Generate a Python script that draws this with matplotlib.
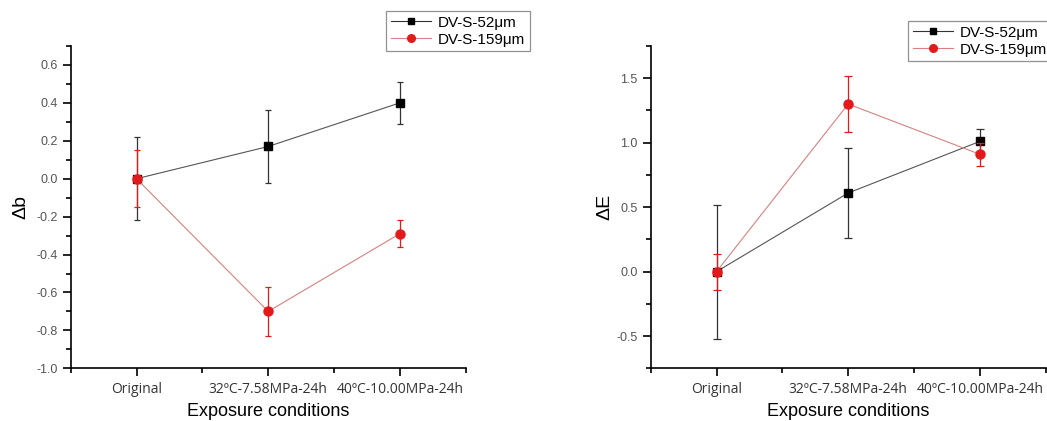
import matplotlib
matplotlib.use('Agg')
import matplotlib.pyplot as plt
from matplotlib.lines import Line2D
from matplotlib.ticker import MultipleLocator, FixedLocator
from matplotlib.transforms import IdentityTransform

# exposure conditions on the x axis
conditions = ['Original', '32ºC-7.58MPa-24h', '40ºC-10.00MPa-24h']
series_names = ['DV-S-52μm', 'DV-S-159μm']

# colour change Δb
db_52 = [0.0, 0.17, 0.40]
db_52_err = [0.22, 0.19, 0.11]
db_159 = [0.0, -0.70, -0.29]
db_159_err = [0.15, 0.13, 0.07]

# total colour difference ΔE
de_52 = [0.0, 0.61, 1.01]
de_52_err = [0.52, 0.35, 0.10]
de_159 = [0.0, 1.30, 0.91]
de_159_err = [0.14, 0.22, 0.09]

RED = '#e31a1c'
W, H = 1047, 421
fig = plt.figure(figsize=(W / 100, H / 100), dpi=100)

ax1 = fig.add_axes([70.7 / W, 1 - 368.3 / H, 395 / W, 322.3 / H])
ax2 = fig.add_axes([650.7 / W, 1 - 368.3 / H, 395 / W, 322.3 / H])

xpos = [1, 2, 3]


def draw(ax, y1, e1, y2, e2, capsize):
    ax.errorbar(xpos, y1, yerr=e1, color='#555555', lw=0.8, marker='s', ms=5.5,
                mfc='black', mec='black', ecolor='#333333', elinewidth=0.9,
                capsize=capsize, capthick=0.9, zorder=3)
    ax.errorbar(xpos, y2, yerr=e2, color='#d98080', lw=0.8, marker='o', ms=6.5,
                mfc=RED, mec=RED, ecolor=RED, elinewidth=0.9,
                capsize=capsize, capthick=0.9, zorder=4)
    ax.set_xlim(0.5, 3.5)
    ax.xaxis.set_major_locator(FixedLocator(xpos))
    ax.xaxis.set_minor_locator(FixedLocator([0.5, 1.5, 2.5, 3.5]))
    ax.set_xticklabels(conditions, family='Open Sans', fontsize=10, color='#333333')
    for s in ['top', 'right']:
        ax.spines[s].set_visible(False)
    for s in ['left', 'bottom']:
        ax.spines[s].set_linewidth(1.2)
    ax.tick_params(which='major', direction='out', length=6, width=1.2)
    ax.tick_params(which='minor', direction='out', length=3.5, width=1.2)
    ax.tick_params(axis='y', labelsize=9, labelcolor='#555555')
    ax.tick_params(axis='x', which='major', pad=4)
    ax.set_xlabel('Exposure conditions', family='Liberation Sans', fontsize=13, labelpad=4)
    handles = [
        Line2D([], [], color='#333333', lw=0.8, marker='s', ms=4.5, mfc='black', mec='black'),
        Line2D([], [], color='#d98080', lw=0.8, marker='o', ms=5.5, mfc=RED, mec=RED),
    ]
    leg = ax.legend(handles, series_names, loc='upper right',
                    prop={'family': 'Liberation Sans', 'size': 11},
                    frameon=True, fancybox=False, handlelength=2.6, borderpad=0.3,
                    labelspacing=0.2, handletextpad=0.5, borderaxespad=0)
    leg.get_frame().set_edgecolor('#777777')
    leg.get_frame().set_linewidth(0.9)
    return leg


leg1 = draw(ax1, db_52, db_52_err, db_159, db_159_err, 2.0)
ax1.set_ylim(-1.0, 0.7)
ax1.yaxis.set_major_locator(MultipleLocator(0.2))
ax1.yaxis.set_minor_locator(MultipleLocator(0.1))
ax1.set_yticklabels([f'{v:.1f}' for v in ax1.get_yticks()], family='Liberation Sans')
ax1.set_ylabel('Δb', family='Liberation Sans', fontsize=14, labelpad=5)
leg1.set_bbox_to_anchor((530, H - 11), transform=IdentityTransform())

leg2 = draw(ax2, de_52, de_52_err, de_159, de_159_err, 2.6)
ax2.set_ylim(-0.75, 1.75)
ax2.yaxis.set_major_locator(MultipleLocator(0.5))
ax2.yaxis.set_minor_locator(MultipleLocator(0.25))
ax2.set_yticklabels([f'{v:.1f}' for v in ax2.get_yticks()], family='Liberation Sans')
ax2.set_ylabel('ΔE', family='Liberation Sans', fontsize=14, labelpad=2)
leg2.set_bbox_to_anchor((1052, H - 21), transform=IdentityTransform())

fig.savefig('out.png', dpi=100)
